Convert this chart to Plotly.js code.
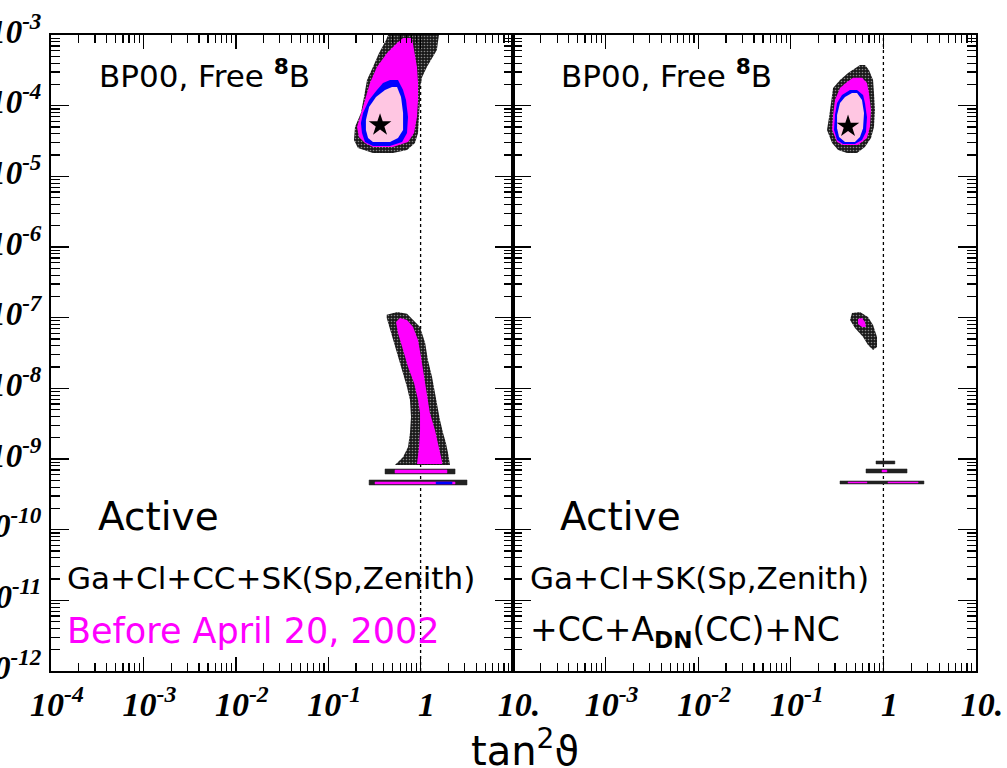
<!DOCTYPE html>
<html>
<head>
<meta charset="utf-8">
<script src="https://cdn.plot.ly/plotly-3.0.1.min.js"></script>
<style>html,body{margin:0;padding:0;background:#fff;}#chart{width:1007px;height:768px;}</style>
</head>
<body>
<div id="chart"></div>
<script>
// ---------- axis ticks ----------
const tanTicks = [1e-4, 1e-3, 1e-2, 1e-1, 1, 10];
const tanTickLabelsLeft = ['10<sup>-4</sup>', '10<sup>-3</sup>', '10<sup>-2</sup>', '10<sup>-1</sup>', '1', '10.'];
const tanTickLabelsRight = ['', '10<sup>-3</sup>', '10<sup>-2</sup>', '10<sup>-1</sup>', '1', '10.'];
const dm2Ticks = [1e-12, 1e-11, 1e-10, 1e-9, 1e-8, 1e-7, 1e-6, 1e-5, 1e-4, 1e-3];
const dm2TickLabels = ['10<sup>-12</sup>', '10<sup>-11</sup>', '10<sup>-10</sup>', '10<sup>-9</sup>', '10<sup>-8</sup>',
  '10<sup>-7</sup>', '10<sup>-6</sup>', '10<sup>-5</sup>', '10<sup>-4</sup>', '10<sup>-3</sup>'];

// ---------- LEFT panel: before April 20, 2002 ----------
// LMA island
const leftLma997Tan = [0.444, 1.58, 1.50, 1.17, 1.04, 0.986, 0.986, 0.962, 0.938, 0.869, 0.713, 0.502, 0.305, 0.210, 0.190, 0.195, 0.226, 0.244, 0.263, 0.305, 0.355, 0.423];
const leftLma997Dm2 = [1e-3, 1e-3, 6.14e-4, 3.52e-4, 2.55e-4, 1.84e-4, 1.20e-4, 6.92e-5, 4.10e-5, 2.96e-5, 2.36e-5, 2.14e-5, 2.14e-5, 2.52e-5, 3.27e-5, 4.99e-5, 7.87e-5, 1.33e-4, 2.31e-4, 3.52e-4, 5.56e-4, 8.49e-4];
const leftLma99Tan = [0.646, 0.807, 0.849, 0.914, 0.938, 0.938, 0.914, 0.849, 0.731, 0.502, 0.305, 0.250, 0.215, 0.205, 0.221, 0.250, 0.283, 0.337, 0.433, 0.556];
const leftLma99Dm2 = [9.08e-4, 9.08e-4, 6.14e-4, 3.52e-4, 2.09e-4, 1.20e-4, 6.92e-5, 4.10e-5, 3.06e-5, 2.60e-5, 2.60e-5, 2.96e-5, 3.61e-5, 4.99e-5, 6.92e-5, 1.20e-4, 2.09e-4, 3.52e-4, 5.56e-4, 7.71e-4];
const leftLma95Tan = [0.467, 0.569, 0.646, 0.695, 0.731, 0.713, 0.630, 0.467, 0.305, 0.250, 0.232, 0.226, 0.238, 0.277, 0.337, 0.392];
const leftLma95Dm2 = [2.31e-4, 2.31e-4, 1.67e-4, 1.20e-4, 6.92e-5, 4.10e-5, 3.06e-5, 2.69e-5, 2.69e-5, 3.06e-5, 4.10e-5, 5.69e-5, 7.87e-5, 1.20e-4, 1.67e-4, 2.09e-4];
const leftLma90Tan = [0.490, 0.556, 0.614, 0.646, 0.646, 0.569, 0.467, 0.305, 0.270, 0.256, 0.256, 0.277, 0.329, 0.412];
const leftLma90Dm2 = [1.84e-4, 1.84e-4, 1.33e-4, 7.87e-5, 4.53e-5, 3.49e-5, 3.06e-5, 3.06e-5, 3.49e-5, 4.53e-5, 6.27e-5, 9.57e-5, 1.33e-4, 1.67e-4];
// LOW / quasi-vacuum band
const leftLow997Tan = [0.430, 0.560, 0.713, 0.828, 0.986, 1.12, 1.20, 1.33, 1.43, 1.54, 1.62, 1.75, 1.88, 1.98, 2.08, 0.528, 0.646, 0.731, 0.767, 0.787, 0.767, 0.713, 0.630, 0.556, 0.502, 0.455, 0.430];
const leftLow997Dm2 = [1.10e-7, 1.20e-7, 1.14e-7, 9.27e-8, 7.38e-8, 4.39e-8, 2.52e-8, 1.45e-8, 8.59e-9, 4.94e-9, 3.56e-9, 2.33e-9, 1.69e-9, 1.22e-9, 8.22e-10, 8.22e-10, 1.07e-9, 1.48e-9, 2.33e-9, 3.94e-9, 6.84e-9, 1.04e-8, 1.82e-8, 3.16e-8, 4.83e-8, 7.38e-8, 9.89e-8];
const leftLow99Tan = [0.598, 0.713, 0.828, 0.938, 1.01, 1.09, 1.17, 1.26, 1.43, 1.58, 1.71, 1.71, 0.914, 0.962, 0.986, 0.986, 0.938, 0.849, 0.731, 0.646, 0.569, 0.542];
const leftLow99Dm2 = [9.89e-8, 9.27e-8, 7.38e-8, 4.83e-8, 2.78e-8, 1.45e-8, 7.55e-9, 4.48e-9, 2.58e-9, 1.48e-9, 9.08e-10, 8.51e-10, 8.51e-10, 1.48e-9, 2.58e-9, 4.48e-9, 6.84e-9, 1.19e-8, 2.00e-8, 3.49e-8, 6.07e-8, 8.69e-8];
// thin horizontal strips (vacuum region)
const leftStrip997TanLo = [0.412, 0.277];
const leftStrip997TanHi = [2.36, 3.18];
const leftStrip997Dm2Lo = [6.14e-10, 4.29e-10];
const leftStrip997Dm2Hi = [7.23e-10, 5.05e-10];
const leftStrip99TanLo = [0.528, 0.321];
const leftStrip99TanHi = [1.93, 2.36];
const leftStrip99Dm2Lo = [6.34e-10, 4.43e-10];
const leftStrip99Dm2Hi = [7.00e-10, 4.73e-10];
const leftStrip95TanLo = [1.47];
const leftStrip95TanHi = [2.19];
const leftStrip95Dm2Lo = [4.43e-10];
const leftStrip95Dm2Hi = [4.73e-10];
const leftBestFit = {tan: [0.364], dm2: [5.32e-5]};

// ---------- RIGHT panel: with CC + A_DN(CC) + NC ----------
const rightLma997Tan = [0.558, 0.632, 0.698, 0.773, 0.791, 0.811, 0.791, 0.735, 0.632, 0.519, 0.405, 0.324, 0.279, 0.246, 0.259, 0.272, 0.286, 0.340, 0.415, 0.519];
const rightLma997Dm2 = [3.76e-4, 3.76e-4, 3.20e-4, 2.31e-4, 1.51e-4, 8.69e-5, 4.99e-5, 3.49e-5, 2.60e-5, 2.14e-5, 2.14e-5, 2.36e-5, 2.96e-5, 4.53e-5, 6.92e-5, 1.20e-4, 1.78e-4, 2.31e-4, 2.90e-4, 3.52e-4];
const rightLma99Tan = [0.470, 0.587, 0.665, 0.698, 0.735, 0.716, 0.665, 0.532, 0.366, 0.316, 0.279, 0.286, 0.300, 0.340, 0.405];
const rightLma99Dm2 = [2.48e-4, 2.48e-4, 2.09e-4, 1.51e-4, 8.69e-5, 4.99e-5, 3.49e-5, 2.78e-5, 2.78e-5, 3.06e-5, 4.53e-5, 7.39e-5, 1.20e-4, 1.78e-4, 2.16e-4];
const rightLma95Tan = [0.436, 0.519, 0.603, 0.632, 0.665, 0.649, 0.587, 0.493, 0.366, 0.316, 0.293, 0.300, 0.316, 0.357];
const rightLma95Dm2 = [1.67e-4, 1.67e-4, 1.41e-4, 1.09e-4, 6.92e-5, 4.24e-5, 3.27e-5, 2.87e-5, 2.87e-5, 3.27e-5, 4.53e-5, 7.39e-5, 1.09e-4, 1.41e-4];
const rightLma90Tan = [0.458, 0.519, 0.587, 0.617, 0.603, 0.558, 0.493, 0.385, 0.332, 0.316, 0.316, 0.340, 0.385];
const rightLma90Dm2 = [1.51e-4, 1.51e-4, 1.20e-4, 7.87e-5, 4.81e-5, 3.61e-5, 3.06e-5, 3.06e-5, 3.61e-5, 4.81e-5, 7.39e-5, 1.09e-4, 1.33e-4];
const rightLow997Tan = [0.458, 0.558, 0.682, 0.773, 0.853, 0.853, 0.773, 0.682, 0.603, 0.493, 0.436];
const rightLow997Dm2 = [1.16e-7, 1.20e-7, 1.02e-7, 7.87e-8, 5.33e-8, 3.85e-8, 3.49e-8, 4.10e-8, 5.33e-8, 7.14e-8, 9.27e-8];
const rightLow99Tan = [0.532, 0.587, 0.632, 0.649, 0.587, 0.532];
const rightLow99Dm2 = [9.57e-8, 9.89e-8, 8.69e-8, 7.38e-8, 7.38e-8, 8.14e-8];
const rightStrip997TanLo = [0.832, 0.649, 0.340];
const rightStrip997TanHi = [1.33, 1.80, 2.74];
const rightStrip997Dm2Lo = [8.51e-10, 6.34e-10, 4.43e-10];
const rightStrip997Dm2Hi = [9.38e-10, 7.23e-10, 4.89e-10];
const rightStrip99TanLo = [0.966, 0.415, 1.12];
const rightStrip99TanHi = [1.09, 0.665, 2.37];
const rightStrip99Dm2Lo = [6.56e-10, 4.58e-10, 4.58e-10];
const rightStrip99Dm2Hi = [7.00e-10, 4.73e-10, 4.73e-10];
const rightBestFit = {tan: [0.415], dm2: [5.1e-5]};

const maximalMixing = {tan: [1, 1], dm2: [1e-12, 1e-3]};

// ---------- styles ----------
const C997 = '#222222', C99 = '#ff00ff', C95 = '#0000ff', C90 = '#ffc6e2';
const speckle = {shape: '.', fgcolor: '#8a8a8a', bgcolor: '#1a1a1a', size: 3, solidity: 0.22};

function closed(a) { return a.concat([a[0]]); }
function region(tan, dm2, color, xa, ya, pattern) {
  const t = {type: 'scatter', mode: 'lines', x: closed(tan), y: closed(dm2), fill: 'toself',
    fillcolor: color, line: {width: 0, color: color}, xaxis: xa, yaxis: ya, hoverinfo: 'skip'};
  if (pattern) t.fillpattern = pattern;
  return t;
}
function strips(lo, hi, dlo, dhi, color, xa, ya) {
  const x = [], y = [];
  for (let i = 0; i < lo.length; i++) {
    x.push(lo[i], hi[i], hi[i], lo[i], lo[i], null);
    y.push(dlo[i], dlo[i], dhi[i], dhi[i], dlo[i], null);
  }
  return {type: 'scatter', mode: 'lines', x: x, y: y, fill: 'toself', connectgaps: false,
    fillcolor: color, line: {width: 0.5, color: color}, xaxis: xa, yaxis: ya, hoverinfo: 'skip'};
}
function guide(xa, ya) {
  return {type: 'scatter', mode: 'lines', x: maximalMixing.tan, y: maximalMixing.dm2,
    line: {color: '#000', width: 1.3, dash: 'dot'}, xaxis: xa, yaxis: ya, hoverinfo: 'skip'};
}
function star(p, xa, ya) {
  return {type: 'scatter', mode: 'markers', x: p.tan, y: p.dm2,
    marker: {symbol: 'star', size: 17, color: '#000'}, xaxis: xa, yaxis: ya, hoverinfo: 'skip'};
}

const traces = [
  guide('x', 'y'),
  region(leftLma997Tan, leftLma997Dm2, C997, 'x', 'y', speckle),
  region(leftLma99Tan, leftLma99Dm2, C99, 'x', 'y'),
  region(leftLma95Tan, leftLma95Dm2, C95, 'x', 'y'),
  region(leftLma90Tan, leftLma90Dm2, C90, 'x', 'y'),
  region(leftLow997Tan, leftLow997Dm2, C997, 'x', 'y', speckle),
  region(leftLow99Tan, leftLow99Dm2, C99, 'x', 'y'),
  strips(leftStrip997TanLo, leftStrip997TanHi, leftStrip997Dm2Lo, leftStrip997Dm2Hi, C997, 'x', 'y'),
  strips(leftStrip99TanLo, leftStrip99TanHi, leftStrip99Dm2Lo, leftStrip99Dm2Hi, C99, 'x', 'y'),
  strips(leftStrip95TanLo, leftStrip95TanHi, leftStrip95Dm2Lo, leftStrip95Dm2Hi, C95, 'x', 'y'),
  star(leftBestFit, 'x', 'y'),

  guide('x2', 'y2'),
  region(rightLma997Tan, rightLma997Dm2, C997, 'x2', 'y2', speckle),
  region(rightLma99Tan, rightLma99Dm2, C99, 'x2', 'y2'),
  region(rightLma95Tan, rightLma95Dm2, C95, 'x2', 'y2'),
  region(rightLma90Tan, rightLma90Dm2, C90, 'x2', 'y2'),
  region(rightLow997Tan, rightLow997Dm2, C997, 'x2', 'y2', speckle),
  region(rightLow99Tan, rightLow99Dm2, C99, 'x2', 'y2'),
  strips(rightStrip997TanLo, rightStrip997TanHi, rightStrip997Dm2Lo, rightStrip997Dm2Hi, C997, 'x2', 'y2'),
  strips(rightStrip99TanLo, rightStrip99TanHi, rightStrip99Dm2Lo, rightStrip99Dm2Hi, C99, 'x2', 'y2'),
  star(rightBestFit, 'x2', 'y2')
];

const tickFontX = {family: 'Liberation Serif', size: 34, weight: 'bold', style: 'italic', color: '#000'};
const tickFontY = {family: 'Liberation Serif', size: 33, weight: 'bold', style: 'italic', color: '#000'};
const minorX = {ticks: 'inside', ticklen: 8, tickwidth: 1.2, tickcolor: '#000', dtick: 'D1', showgrid: false};
const minorY = {ticks: 'inside', ticklen: 9, tickwidth: 1.2, tickcolor: '#000', dtick: 'D1', showgrid: false};
const split = 462 / 925;

function xAxis(domain, anchor, labels) {
  return {domain: domain, anchor: anchor, type: 'log', range: [-4, 1], showgrid: false, zeroline: false,
    showline: true, linecolor: '#000', linewidth: 2, mirror: 'allticks',
    ticks: 'inside', ticklen: 14, tickwidth: 1.4, tickcolor: '#000',
    tickmode: 'array', tickvals: tanTicks, ticktext: labels, tickfont: tickFontX,
    ticklabelshift: 6, ticklabelstandoff: 2, minor: minorX, automargin: false};
}
function yAxis(anchor, showLabels) {
  return {anchor: anchor, domain: [0, 1], type: 'log', range: [-12, -3], showgrid: false, zeroline: false,
    showline: true, linecolor: '#000', linewidth: 2, mirror: 'allticks',
    ticks: 'inside', ticklen: 18, tickwidth: 1.4, tickcolor: '#000',
    tickmode: 'array', tickvals: dm2Ticks, ticktext: dm2TickLabels, tickfont: tickFontY,
    showticklabels: showLabels, ticklabelshift: -4, ticklabelstandoff: 1, minor: minorY, automargin: false};
}

function note(text, px, py, size, color) {
  return {text: text, xref: 'paper', yref: 'paper', x: (px - 51) / 925, y: (671 - py) / 636,
    xanchor: 'left', yanchor: 'middle', showarrow: false,
    font: {family: 'DejaVu Sans', size: size, color: color || '#000'}};
}

const layout = {
  width: 1007, height: 768,
  margin: {l: 51, r: 31, t: 35, b: 97, pad: 0},
  paper_bgcolor: '#fff', plot_bgcolor: '#fff',
  showlegend: false,
  xaxis: xAxis([0, split], 'y', tanTickLabelsLeft),
  xaxis2: xAxis([split, 1], 'y2', tanTickLabelsRight),
  yaxis: yAxis('x', true),
  yaxis2: yAxis('x2', false),
  annotations: [
    note('BP00, Free <sup><b>8</b></sup>B', 97, 74, 31),
    note('Active', 96, 516, 39),
    note('Ga+Cl+CC+SK(Sp,Zenith)', 65, 578, 31),
    note('Before April 20, 2002', 65, 631, 35, '#ff00ff'),
    note('BP00, Free <sup><b>8</b></sup>B', 559, 74, 31),
    note('Active', 558, 516, 39),
    note('Ga+Cl+SK(Sp,Zenith)', 528, 578, 31),
    note('+CC+A<sub><b>DN</b></sub>(CC)+NC', 528, 631, 33),
    {text: 'tan<sup>2</sup>ϑ', xref: 'paper', yref: 'paper', x: (525 - 51) / 925, y: (671 - 748) / 636,
      xanchor: 'center', yanchor: 'middle', showarrow: false, font: {family: 'DejaVu Sans', size: 40, color: '#000'}}
  ]
};

Plotly.newPlot('chart', traces, layout, {staticPlot: true, displayModeBar: false});
</script>
</body>
</html>
